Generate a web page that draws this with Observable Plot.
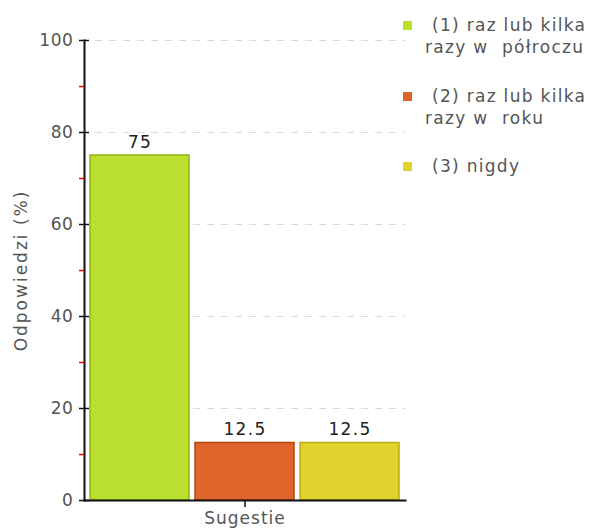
<!DOCTYPE html>
<html>
<head>
<meta charset="utf-8">
<script src="https://cdn.jsdelivr.net/npm/d3@7"></script>
<script src="https://cdn.jsdelivr.net/npm/@observablehq/plot@0.6"></script>
<style>
  html, body { margin: 0; padding: 0; background: #fff; }
  #wrap { position: relative; width: 596px; height: 529px; font-family: "DejaVu Sans", Verdana, sans-serif; }
  #chart { position: absolute; left: 0; top: 0; }
  .sw { position: absolute; width: 9px; height: 9px; }
  .lg { position: absolute; font-size: 17px; line-height: 22px; color: #555; white-space: pre; letter-spacing: 1.3px; }
  #chart g[aria-label="y-axis label"] text { letter-spacing: 2px; }
  #chart g[aria-label="x-axis tick label"] text { letter-spacing: 1px; }
  #chart g[aria-label="y-axis tick label"] text { letter-spacing: 0.6px; }
  #chart g[aria-label="text"] text { letter-spacing: 1.3px; }
</style>
</head>
<body>
<div id="wrap"><div id="chart"></div></div>
<script>
const categories = ["(1) raz lub kilka razy w półroczu", "(2) raz lub kilka razy w roku", "(3) nigdy"];
const legendLines = [["(1) raz lub kilka", "razy w  półroczu"], ["(2) raz lub kilka", "razy w  roku"], ["(3) nigdy"]];
const values = [75, 12.5, 12.5];
const fills = ["#bbdf2f", "#e0652d", "#e0d32e"];
const strokes = ["#93b417", "#b8430f", "#bcaa10"];
const majorTicks = [0, 20, 40, 60, 80, 100];
const minorTicks = [10, 30, 50, 70, 90];
const gridTicks = [20, 40, 60, 80, 100];
const xLabel = "Sugestie";
const yLabel = "Odpowiedzi (%)";

const data = categories.map((c, i) => ({cat: c, value: values[i], fill: fills[i], stroke: strokes[i]}));

const chart = Plot.plot({
  width: 596,
  height: 529,
  marginLeft: 84,
  marginRight: 191,
  marginTop: 40,
  marginBottom: 29,
  style: {fontFamily: "DejaVu Sans, Verdana, sans-serif", fontSize: "17px", background: "transparent"},
  x: {domain: categories, paddingInner: 0.055, paddingOuter: 0.05, axis: null},
  y: {domain: [0, 100], axis: null},
  color: {type: "identity"},
  marks: [
    Plot.gridY(gridTicks, {stroke: "#d8d8d8", strokeOpacity: 1, strokeDasharray: "7,7", strokeDashoffset: -11}),
    Plot.barY(data, {x: "cat", y: "value", fill: "fill", stroke: "stroke", strokeWidth: 1.5}),
    Plot.text(data, {x: "cat", y: "value", text: d => String(d.value), dy: -13, fill: "#222", fontSize: 17}),
    Plot.frame({anchor: "left", stroke: "#111", strokeWidth: 2}),
    Plot.frame({anchor: "bottom", stroke: "#111", strokeWidth: 2}),
    Plot.axisY({ticks: majorTicks, tickSize: 10, dx: 5, tickFormat: () => "", label: null, stroke: "#111", strokeWidth: 1.5}),
    Plot.axisY({ticks: minorTicks, tickSize: 5, tickFormat: () => "", label: null, stroke: "red", strokeWidth: 1.5}),
    Plot.axisY({ticks: majorTicks, tickSize: 0, tickPadding: 11, fill: "#555", fontSize: 17,
      label: yLabel, labelAnchor: "center", labelArrow: "none", labelOffset: 70}),
    Plot.axisX([categories[1]], {tickSize: 7, tickPadding: 4, tickFormat: () => xLabel, label: null,
      stroke: "#111", strokeWidth: 1.5, fill: "#555", fontSize: 17})
  ]
});
document.getElementById("chart").appendChild(chart);

const wrap = document.getElementById("wrap");
const itemTops = [25, 96, 166];
legendLines.forEach((lines, i) => {
  const sw = document.createElement("div");
  sw.className = "sw";
  sw.style.left = "403px";
  sw.style.top = (itemTops[i] - 4) + "px";
  sw.style.background = fills[i];
  wrap.appendChild(sw);
  lines.forEach((t, j) => {
    const el = document.createElement("div");
    el.className = "lg";
    el.textContent = t;
    el.style.left = (j === 0 ? 432 : 425) + "px";
    el.style.top = (itemTops[i] + j * 22 - 11) + "px";
    wrap.appendChild(el);
  });
});
</script>
</body>
</html>
